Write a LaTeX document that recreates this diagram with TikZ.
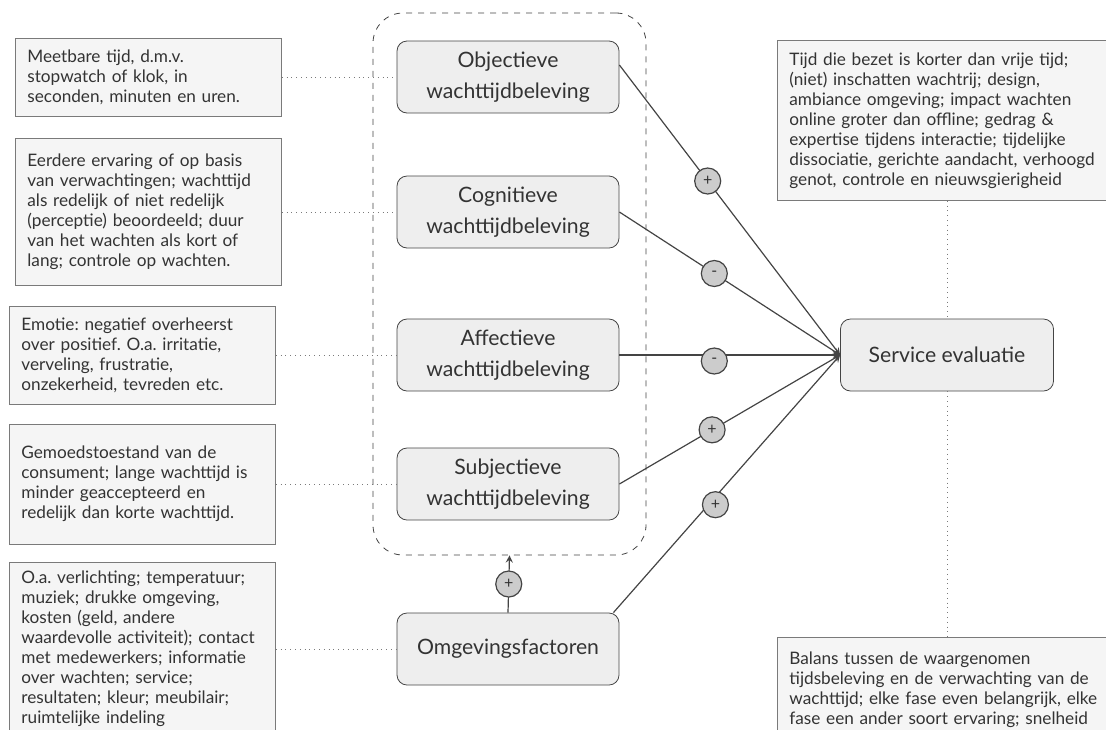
\documentclass[tikz,border=0pt]{standalone}
\usepackage{fontspec}
\setmainfont{Lato}
\usetikzlibrary{shapes}
\usetikzlibrary{positioning}
\definecolor{ink}{HTML}{333333}
\definecolor{edge}{HTML}{444444}
\definecolor{notefill}{HTML}{F5F5F5}
\definecolor{noteline}{HTML}{7A7A7A}
\definecolor{conceptfill}{HTML}{EEEEEE}
\definecolor{signfill}{HTML}{CCCCCC}
\frenchspacing
\tikzset{>=stealth}
\tikzstyle{note}=[
  rectangle, draw=noteline, fill=notefill, text=ink,
  align=left, text width=121pt, inner xsep=6pt, inner ysep=4pt,
  font=\fontsize{8.6}{10}\selectfont
]
\tikzstyle{concept}=[
  rectangle, rounded corners=5pt, draw=edge, fill=conceptfill, text=ink,
  minimum width=111pt, minimum height=36pt, align=center,
  font=\fontsize{10.6}{15.5}\selectfont
]
\tikzstyle{sign}=[circle, draw=edge, fill=signfill, minimum size=13pt,
  inner sep=0pt, text=ink, font=\fontsize{8}{8}\selectfont]
\tikzstyle{link}=[dotted, draw=noteline]
\tikzstyle{effect}=[draw=edge, ->, line width=0.6pt]
\tikzstyle{group}=[dashed, draw=edge, rounded corners=15pt]

\begin{document}
\begin{tikzpicture}[x=0.5pt, y=-0.5pt]
  \useasboundingbox (0,0) rectangle (1106,729);
  \clip (0,0) rectangle (1106,729);

  \node (grp) [group, minimum width=136.5pt, minimum height=271pt] at (509.5,284) {};

  \node (obj) [concept] at (508,77) {Objectieve\\wachttijdbeleving};
  \node (cog) [concept] at (508,212) {Cognitieve\\wachttijdbeleving};
  \node (aff) [concept] at (508,355) {Affectieve\\wachttijdbeleving};
  \node (subj) [concept] at (508,484) {Subjectieve\\wachttijdbeleving};
  \node (omg) [concept] at (508,649) {Omgevingsfactoren};
  \node (srv) [concept, minimum width=106.5pt] at (947,355) {Service evaluatie};

  % toelichting links
  \node (nObj) [note, anchor=west, minimum height=39pt] at (15,77)
    {Meetbare tijd, d.m.v.\\stopwatch of klok, in\\seconden, minuten en uren.};
  \node (nCog) [note, anchor=west, minimum height=73.5pt] at (15,212)
    {Eerdere ervaring of op basis\\van verwachtingen; wachttijd\\als redelijk of niet redelijk\\(perceptie) beoordeeld; duur\\van het wachten als kort of\\lang; controle op wachten.};
  \node (nAff) [note, anchor=west, minimum height=49pt] at (9,355)
    {Emotie: negatief overheerst\\over positief. O.a. irritatie,\\verveling, frustratie,\\onzekerheid, tevreden etc.};
  \node (nSubj) [note, anchor=west, minimum height=60pt] at (9,484)
    {Gemoedstoestand van de\\consument; lange wachttijd is\\minder geaccepteerd en\\redelijk dan korte wachttijd.};
  \node (nOmg) [note, anchor=west, minimum height=87pt] at (9,649)
    {O.a. verlichting; temperatuur;\\muziek; drukke omgeving,\\kosten (geld, andere\\waardevolle activiteit); contact\\met medewerkers; informatie\\over wachten; service;\\resultaten; kleur; meubilair;\\ruimtelijke indeling};

  % toelichting rechts
  \node (nTop) [note, anchor=north west, text width=162pt, minimum height=80pt] at (777,40)
    {Tijd die bezet is korter dan vrije tijd;\\(niet) inschatten wachtrij; design,\\ambiance omgeving; impact wachten\\online groter dan offline; gedrag \&\\expertise tijdens interactie; tijdelijke\\dissociatie, gerichte aandacht, verhoogd\\genot, controle en nieuwsgierigheid};
  \node (nBot) [note, anchor=north west, text width=162pt, inner ysep=7pt] at (777,637)
    {Balans tussen de waargenomen\\tijdsbeleving en de verwachting van de\\wachttijd; elke fase even belangrijk, elke\\fase een ander soort ervaring; snelheid};

  \draw[link] (nObj.east) -- (obj.west);
  \draw[link] (nCog.east) -- (cog.west);
  \draw[link] (nAff.east) -- (aff.west);
  \draw[link] (nSubj.east) -- (subj.west);
  \draw[link] (nOmg.east) -- (omg.west);
  \draw[link] (nTop.south -| srv.north) -- (srv.north);
  \draw[link] (srv.south) -- (srv.south |- nBot.north);

  \draw[effect] ([yshift=6pt]obj.east) -- node[sign, pos=0.4] {+} (srv.west);
  \draw[effect] (cog.east) -- node[sign, pos=0.43] {-} (srv.west);
  \draw[effect] (aff.east) -- node[sign, pos=0.43, yshift=-3pt] {-} (srv.west);
  \draw[effect] (subj.east) -- node[sign, pos=0.42] {+} (srv.west);
  \draw[effect] ([xshift=-3pt]omg.north east) -- node[sign, pos=0.45, yshift=-4pt] {+} (srv.west);
  \draw[effect] (omg.north) -- node[sign] {+} (grp.south);
\end{tikzpicture}
\end{document}
